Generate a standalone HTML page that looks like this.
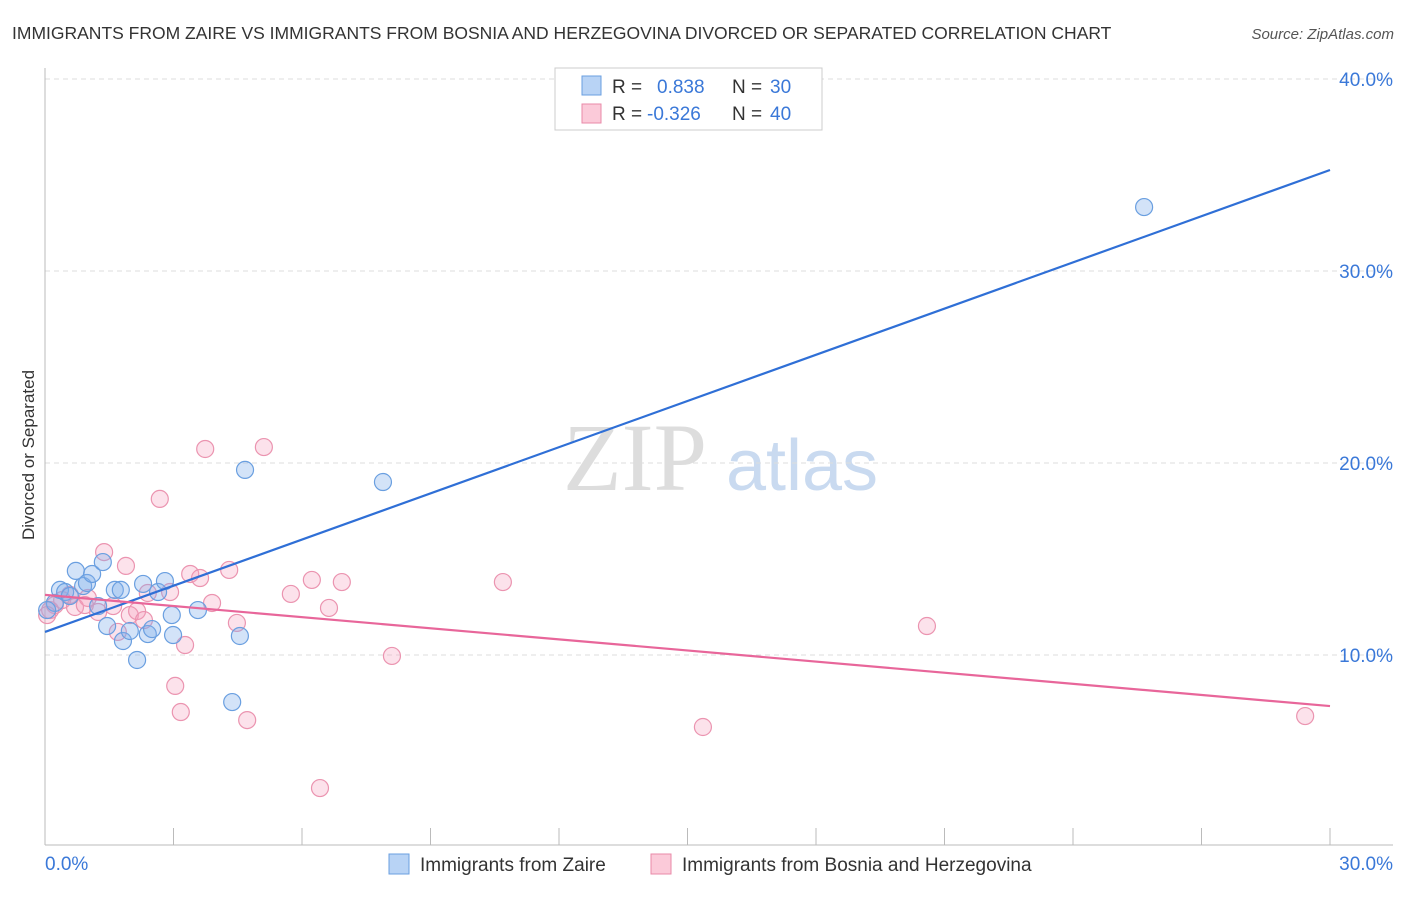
<!DOCTYPE html>
<html><head><meta charset="utf-8"><style>
body{margin:0;background:#fff;font-family:"Liberation Sans",sans-serif;}
</style></head><body>
<svg width="1406" height="892" xmlns="http://www.w3.org/2000/svg" style="font-family:'Liberation Sans',sans-serif">
<text x="12" y="39" font-size="17.5" fill="#333">IMMIGRANTS FROM ZAIRE VS IMMIGRANTS FROM BOSNIA AND HERZEGOVINA DIVORCED OR SEPARATED CORRELATION CHART</text>
<text x="1394" y="39" font-size="15" fill="#555" font-style="italic" text-anchor="end">Source: ZipAtlas.com</text>
<text x="34" y="455" font-size="17" fill="#333" text-anchor="middle" transform="rotate(-90 34 455)">Divorced or Separated</text>
<g><text x="635" y="490" font-size="96" fill="#ddd" font-family="Liberation Serif" text-anchor="middle">ZIP</text><text x="802" y="490" font-size="72" fill="#c9daf0" text-anchor="middle">atlas</text></g>
<g id="grid"></g><g id="axes"></g><g id="pts"></g><g id="lines"></g>
<g>
<rect x="555" y="68" width="267" height="62" fill="#fff" stroke="#ccc"/>
<rect x="582" y="76" width="19" height="19" fill="#b8d3f5" stroke="#6a9fe0"/>
<rect x="582" y="104" width="19" height="19" fill="#fbcad9" stroke="#e88aa8"/>
<text x="612" y="93" font-size="19" fill="#333">R = <tspan x="657" fill="#3a78d8">0.838</tspan><tspan x="732" fill="#333">N = </tspan><tspan x="770" fill="#3a78d8">30</tspan></text>
<text x="612" y="120" font-size="19" fill="#333">R = <tspan x="647" fill="#3a78d8">-0.326</tspan><tspan x="732" fill="#333">N = </tspan><tspan x="770" fill="#3a78d8">40</tspan></text>
</g>
<g>
<rect x="389" y="854" width="20" height="20" fill="#b8d3f5" stroke="#6a9fe0"/>
<text x="420" y="871" font-size="19" fill="#333">Immigrants from Zaire</text>
<rect x="651" y="854" width="20" height="20" fill="#fbcad9" stroke="#e88aa8"/>
<text x="682" y="871" font-size="19" fill="#333">Immigrants from Bosnia and Herzegovina</text>
</g>
</svg>
<script>
const xTicks=[0,30];
const yTicks=[10,20,30,40];
const blueX=[0.23,0.35,0.47,0.58,0.72,0.89,0.98,1.10,1.24,1.35,1.45,1.63,1.77,1.82,1.98,2.15,2.29,2.40,2.50,2.64,2.80,2.96,2.99,3.57,4.37,4.55,4.67,7.89,25.66,0.05];
const blueY=[12.71,13.39,13.28,13.07,14.38,13.59,13.75,14.22,12.55,14.84,11.51,13.39,13.39,10.73,11.25,9.74,13.70,11.09,11.35,13.28,13.85,12.08,11.04,12.34,7.55,10.99,19.64,19.01,33.33,12.34];
const pinkX=[0.12,0.23,0.40,0.58,0.70,1.00,1.24,1.38,1.59,1.70,1.89,1.98,2.15,2.31,2.40,2.68,2.92,3.04,3.17,3.27,3.39,3.62,3.74,3.90,4.30,4.48,4.72,5.11,5.74,6.23,6.42,6.63,6.93,8.10,10.69,15.36,20.59,29.42,0.05,0.93];
const pinkY=[12.34,12.60,12.86,13.13,12.50,12.97,12.24,15.36,12.55,11.20,14.64,12.08,12.29,11.82,13.23,18.13,13.28,8.39,7.03,10.52,14.22,14.01,20.73,12.71,14.43,11.67,6.61,20.83,13.18,13.91,3.07,12.45,13.80,9.95,13.80,6.25,11.51,6.82,12.08,12.60];
const blueTrend=[11.2,35.26];
const pinkTrend=[13.13,7.34];
const NS="http://www.w3.org/2000/svg";
const sx=v=>45+v/30*1285;
const sy=v=>847-v*19.2;
function mk(tag,attrs,parent){const e=document.createElementNS(NS,tag);for(const k in attrs)e.setAttribute(k,attrs[k]);document.getElementById(parent).appendChild(e);return e;}
yTicks.forEach(t=>{
 const g=mk('line',{x1:45,x2:1393,y1:sy(t),y2:sy(t),stroke:'#ddd','stroke-dasharray':'5,4'},'grid');
 
 
 const l=mk('text',{x:1393,y:sy(t)+7,'font-size':19,fill:'#3a78d8','text-anchor':'end'},'grid');
 l.textContent=t.toFixed(1)+'%';
 
 
});
const ax=mk('line',{x1:45,x2:1393,y1:845,y2:845,stroke:'#bbb'},'axes');


const ay=mk('line',{x1:45,x2:45,y1:68,y2:845,stroke:'#bbb'},'axes');


for(let i=0;i<=10;i++){
 const t=mk('line',{x1:sx(i*3),x2:sx(i*3),y1:828,y2:845,stroke:'#bbb'},'axes');
 
 
}
xTicks.forEach((t,i)=>{
 const l=mk('text',{x:i?1393:45,y:870,'font-size':19,fill:'#3a78d8','text-anchor':i?'end':'start'},'axes');
 l.textContent=t.toFixed(1)+'%';
 
 
});
pinkX.forEach((x,i)=>{
 const c=mk('circle',{cx:sx(x),cy:sy(pinkY[i]),r:8.5,fill:'rgba(245,160,190,0.3)',stroke:'#eb94b0','stroke-width':1.2},'pts');
 
 
});
blueX.forEach((x,i)=>{
 const c=mk('circle',{cx:sx(x),cy:sy(blueY[i]),r:8.5,fill:'rgba(130,175,235,0.35)',stroke:'#6a9fe0','stroke-width':1.2},'pts');
 
 
});
const bl=mk('line',{x1:sx(0),y1:sy(blueTrend[0]),x2:sx(30),y2:sy(blueTrend[1]),stroke:'#2f6fd6','stroke-width':2.2},'lines');


const pl=mk('line',{x1:sx(0),y1:sy(pinkTrend[0]),x2:sx(30),y2:sy(pinkTrend[1]),stroke:'#e8669a','stroke-width':2.2},'lines');


</script>
</body></html>
